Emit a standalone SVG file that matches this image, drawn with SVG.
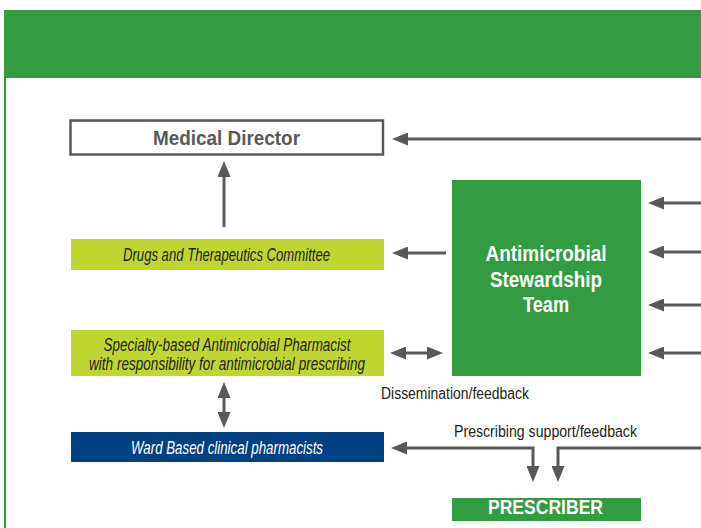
<svg xmlns="http://www.w3.org/2000/svg" width="701" height="528" viewBox="0 0 701 528">
<style>
.t{font-family:"Liberation Sans",Arial,sans-serif;}
.b{font-weight:bold;}
.i{font-style:italic;}
.dark{fill:#231f20;}
.gray{fill:#58595b;}
.white{fill:#ffffff;}
.conn{fill:none;stroke:#58595b;stroke-width:3;}
</style>
<defs>
<marker id="ah" viewBox="0 0 16 13" refX="8" refY="6.5" markerWidth="16" markerHeight="13" markerUnits="userSpaceOnUse" orient="auto-start-reverse">
<path d="M0,0 L16,6.5 L0,13 z" fill="#58595b"/>
</marker>
</defs>
<rect width="701" height="528" fill="#ffffff"/>
<g id="frame">
<rect x="4" y="10" width="697" height="68" fill="#339b41"/>
<rect x="4" y="78" width="2" height="450" fill="#339b41"/>
</g>
<g id="connectors">
<line class="conn" x1="701" y1="139" x2="400" y2="139" marker-end="url(#ah)"/>
<line class="conn" x1="224" y1="227" x2="224" y2="169" marker-end="url(#ah)"/>
<line class="conn" x1="446" y1="253" x2="400" y2="253" marker-end="url(#ah)"/>
<line class="conn" x1="701" y1="203" x2="656" y2="203" marker-end="url(#ah)"/>
<line class="conn" x1="701" y1="252" x2="656" y2="252" marker-end="url(#ah)"/>
<line class="conn" x1="701" y1="305" x2="656" y2="305" marker-end="url(#ah)"/>
<line class="conn" x1="701" y1="353" x2="656" y2="353" marker-end="url(#ah)"/>
<line class="conn" x1="398" y1="353" x2="435" y2="353" marker-start="url(#ah)" marker-end="url(#ah)"/>
<line class="conn" x1="224" y1="390" x2="224" y2="420" marker-start="url(#ah)" marker-end="url(#ah)"/>
<path class="conn" d="M399,448 H533 V474" marker-start="url(#ah)" marker-end="url(#ah)"/>
<path class="conn" d="M701,448 H558 V474" marker-end="url(#ah)"/>
<text class="t dark" x="381" y="398.5" font-size="16" textLength="148" lengthAdjust="spacingAndGlyphs">Dissemination/feedback</text>
<text class="t dark" x="454" y="437" font-size="16" textLength="183" lengthAdjust="spacingAndGlyphs">Prescribing support/feedback</text>
</g>
<g id="medical-director">
<rect x="70.5" y="120.5" width="312.5" height="34" fill="#ffffff" stroke="#58595b" stroke-width="2.5"/>
<text class="t b gray" x="226.5" y="145" font-size="19.5" text-anchor="middle" textLength="147" lengthAdjust="spacingAndGlyphs">Medical Director</text>
</g>
<g id="dtc">
<rect x="71" y="239" width="313" height="31" fill="#bfd630"/>
<text class="t i dark" x="226.5" y="261" font-size="18" text-anchor="middle" textLength="207" lengthAdjust="spacingAndGlyphs">Drugs and Therapeutics Committee</text>
</g>
<g id="ast">
<rect x="452" y="180" width="189" height="196" fill="#339b41"/>
<text class="t b white" x="546" y="261" font-size="21.5" text-anchor="middle" textLength="121" lengthAdjust="spacingAndGlyphs">Antimicrobial</text>
<text class="t b white" x="546" y="287" font-size="21.5" text-anchor="middle" textLength="112" lengthAdjust="spacingAndGlyphs">Stewardship</text>
<text class="t b white" x="546" y="312" font-size="21.5" text-anchor="middle" textLength="46" lengthAdjust="spacingAndGlyphs">Team</text>
</g>
<g id="sbap">
<rect x="71" y="330" width="313" height="46" fill="#bfd630"/>
<text class="t i dark" x="227" y="351" font-size="18" text-anchor="middle" textLength="247" lengthAdjust="spacingAndGlyphs">Specialty-based Antimicrobial Pharmacist</text>
<text class="t i dark" x="227" y="370" font-size="18" text-anchor="middle" textLength="276" lengthAdjust="spacingAndGlyphs">with responsibility for antimicrobial prescribing</text>
</g>
<g id="ward">
<rect x="71" y="432" width="313" height="30" fill="#004183"/>
<text class="t i white" x="227" y="453.5" font-size="18" text-anchor="middle" textLength="192" lengthAdjust="spacingAndGlyphs">Ward Based clinical pharmacists</text>
</g>
<g id="prescriber">
<rect x="452" y="498" width="189" height="23" fill="#339b41"/>
<text class="t b white" x="545.5" y="513.5" font-size="19.5" text-anchor="middle" textLength="115" lengthAdjust="spacingAndGlyphs">PRESCRIBER</text>
</g>
</svg>
